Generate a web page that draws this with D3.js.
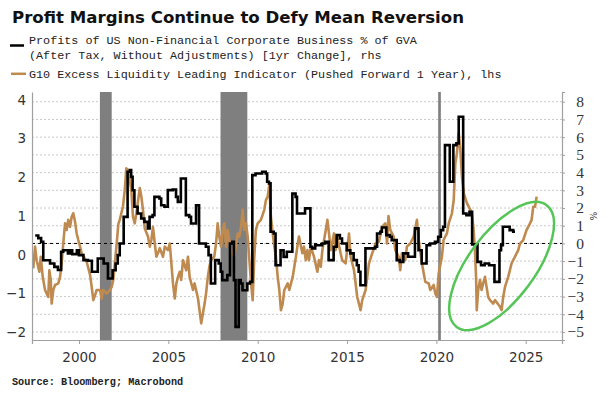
<!DOCTYPE html>
<html>
<head>
<meta charset="utf-8">
<script src="https://cdn.jsdelivr.net/npm/d3@7"></script>
<style>
  html, body { margin: 0; padding: 0; background: #fff; }
  svg { display: block; }
</style>
</head>
<body>
<svg id="chart" width="616" height="400"></svg>
<script>
// ---------- DATA ----------
const title = "Profit Margins Continue to Defy Mean Reversion";
const legendProfits = ["Profits of US Non-Financial Corporate Business % of GVA",
                       "(After Tax, Without Adjustments) [1yr Change], rhs"];
const legendLiquidity = "G10 Excess Liquidity Leading Indicator (Pushed Forward 1 Year), lhs";
const sourceText = "Source: Bloomberg; Macrobond";

const xTicks = [2000, 2005, 2010, 2015, 2020, 2025];
const leftTicks = [-2, -1, 0, 1, 2, 3, 4];
const rightTicks = [-5, -4, -3, -2, -1, 0, 1, 2, 3, 4, 5, 6, 7, 8];

// recession periods [start, end] (decimal years)
const recessions = [[2001.17, 2001.83], [2007.92, 2009.42], [2020.1, 2020.25]];

// Profits of US NFC % of GVA, 1yr change (rhs) - step series [year, value]
const profits = [
  [1997.55,0.45],[1997.72,0.3],[1997.88,0.1],[1998.0,-0.95],[1998.38,-1.13],[1998.62,-1.32],
  [1998.82,-1.5],[1999.0,-0.47],[1999.12,-0.38],[1999.38,-0.56],[1999.5,-0.38],[1999.62,-0.6],
  [1999.88,-0.38],[2000.0,-0.66],[2000.25,-0.94],[2000.5,-0.98],[2000.72,-1.6],[2001.05,-0.85],
  [2001.38,-1.13],[2001.62,-1.98],[2001.88,-1.51],[2002.05,-1.13],[2002.17,-0.66],[2002.28,0.0],
  [2002.5,1.5],[2002.72,4.05],[2002.85,4.14],[2002.92,3.76],[2003.0,3.0],[2003.1,2.07],
  [2003.28,1.69],[2003.48,1.41],[2003.66,1.22],[2003.85,0.85],[2003.95,1.5],[2004.12,1.6],
  [2004.22,2.63],[2004.5,2.54],[2004.6,2.16],[2004.78,2.07],[2004.97,3.01],[2005.25,3.05],
  [2005.43,2.63],[2005.53,2.35],[2005.7,3.67],[2005.98,1.6],[2006.17,1.5],[2006.27,1.13],
  [2006.55,2.16],[2006.72,0.0],[2007.1,-0.19],[2007.25,-0.66],[2007.38,-2.26],[2007.62,-0.94],
  [2007.82,-1.13],[2007.93,-1.6],[2008.02,-2.07],[2008.3,-1.79],[2008.45,0.0],[2008.58,0.09],
  [2008.67,-2.07],[2008.76,-4.71],[2008.94,-2.07],[2009.05,-2.26],[2009.15,-2.64],[2009.42,-2.26],
  [2009.57,-2.17],[2009.7,3.86],[2009.88,3.95],[2010.25,4.05],[2010.45,3.95],[2010.53,3.48],
  [2010.63,3.39],[2010.72,0.66],[2010.9,0.56],[2011.0,-1.23],[2011.28,-0.38],[2011.45,-0.76],
  [2011.63,-0.47],[2011.94,2.82],[2012.12,2.63],[2012.2,1.69],[2012.65,1.98],[2012.95,-0.19],
  [2013.05,-0.28],[2013.22,-0.1],[2013.6,0.0],[2013.78,0.09],[2013.97,-0.94],[2014.25,-0.19],
  [2014.42,0.47],[2014.6,0.28],[2014.72,0.0],[2014.98,-0.38],[2015.18,-0.56],[2015.37,-0.94],
  [2015.55,-1.23],[2015.65,-1.6],[2015.75,-2.36],[2016.03,-0.28],[2016.58,-0.19],[2016.68,0.56],
  [2016.86,0.66],[2016.95,0.9],[2017.2,0.47],[2017.4,0.38],[2017.5,0.19],[2017.78,-0.94],
  [2017.96,-1.04],[2018.15,-0.56],[2018.42,-0.75],[2018.8,0.85],[2019.0,-0.38],[2019.18,-1.13],
  [2019.45,-0.1],[2019.65,0.0],[2019.92,0.09],[2020.1,0.38],[2020.25,0.75],[2020.38,0.94],
  [2020.48,5.55],[2020.75,3.48],[2020.95,5.55],[2021.12,5.65],[2021.25,7.15],[2021.5,1.69],
  [2021.68,1.6],[2021.85,1.79],[2022.0,-0.05],[2022.3,-1.04],[2022.5,-1.23],[2022.7,-1.13],
  [2022.95,-1.23],[2023.25,-2.17],[2023.53,-0.38],[2023.62,-0.1],[2023.72,0.94],[2024.1,0.75],
  [2024.3,0.66],[2024.4,0.66]
];

// G10 Excess Liquidity Leading Indicator, pushed forward 1 year (lhs) [year, value]
const liquidity = [
  [1997.44,-0.35],[1997.54,0.21],[1997.63,-0.14],[1997.78,-0.44],[1997.86,-0.05],[1997.97,-0.57],
  [1998.10,-0.91],[1998.28,-1.09],[1998.34,-0.4],[1998.42,-0.65],[1998.47,-1.26],[1998.56,-0.91],
  [1998.66,-0.78],[1998.84,-0.74],[1998.94,-0.57],[1999.03,-0.22],[1999.12,0.29],[1999.22,0.81],
  [1999.31,0.64],[1999.40,0.9],[1999.50,0.72],[1999.59,0.98],[1999.68,1.07],[1999.78,0.85],
  [1999.87,0.55],[1999.96,0.38],[2000.06,0.21],[2000.15,0.04],[2000.43,-0.18],[2000.62,-0.52],
  [2000.71,-0.83],[2000.80,-1.17],[2000.90,-1.04],[2000.99,-0.91],[2001.18,-0.91],[2001.27,-1.13],
  [2001.36,-0.91],[2001.55,-1.0],[2001.73,-0.91],[2001.83,-0.83],[2001.92,-0.65],[2002.11,0.29],
  [2002.20,0.79],[2002.28,0.9],[2002.46,1.24],[2002.56,1.67],[2002.65,2.23],[2002.74,2.19],
  [2002.93,1.67],[2003.02,0.98],[2003.12,0.81],[2003.21,1.07],[2003.40,1.72],[2003.49,1.5],
  [2003.58,1.16],[2003.68,0.68],[2003.86,0.47],[2003.96,0.21],[2004.05,0.38],[2004.14,0.72],
  [2004.24,0.29],[2004.33,-0.05],[2004.42,0.04],[2004.52,0.17],[2004.70,-0.05],[2004.80,0.21],
  [2004.98,0.12],[2005.08,0.29],[2005.17,-0.22],[2005.26,-0.74],[2005.36,-1.13],[2005.45,-0.74],
  [2005.54,-0.57],[2005.64,-0.44],[2005.72,-0.65],[2005.82,-0.14],[2006.0,-0.4],[2006.10,-0.05],
  [2006.19,-0.57],[2006.38,-0.91],[2006.47,-0.74],[2006.66,-1.13],[2006.84,-1.77],[2007.03,-1.26],
  [2007.11,-1.0],[2007.21,-0.57],[2007.30,-0.3],[2007.39,-0.14],[2007.57,-0.05],[2007.67,0.29],
  [2007.76,0.81],[2007.85,0.47],[2007.95,0.21],[2008.04,0.64],[2008.13,0.81],[2008.23,0.21],
  [2008.32,0.64],[2008.41,0.38],[2008.51,0.12],[2008.69,-0.05],[2008.88,0.55],[2008.97,0.47],
  [2009.07,0.72],[2009.16,1.16],[2009.25,0.64],[2009.35,0.81],[2009.44,0.47],[2009.63,-0.74],
  [2009.72,-1.17],[2009.81,-0.05],[2009.90,0.64],[2010.0,0.81],[2010.18,0.9],[2010.37,1.16],
  [2010.46,1.41],[2010.56,1.5],[2010.65,1.8],[2010.74,0.98],[2010.84,0.55],[2010.93,0.21],
  [2011.02,-0.05],[2011.12,-0.57],[2011.21,-0.91],[2011.30,-1.43],[2011.40,-1.26],[2011.49,-0.91],
  [2011.68,-0.74],[2011.77,-0.91],[2011.96,-0.57],[2012.05,-0.31],[2012.14,-0.05],[2012.22,0.21],
  [2012.31,0.47],[2012.50,0.04],[2012.59,0.21],[2012.69,-0.14],[2012.78,0.12],[2012.87,-0.14],
  [2012.97,0.21],[2013.15,-0.05],[2013.34,-0.44],[2013.43,-0.14],[2013.53,-0.31],[2013.62,0.12],
  [2013.81,0.64],[2013.90,0.9],[2013.99,0.55],[2014.09,0.12],[2014.27,0.55],[2014.36,0.12],
  [2014.45,0.47],[2014.64,0.04],[2014.73,-0.14],[2014.92,-0.22],[2015.11,0.55],[2015.20,-0.05],
  [2015.39,-0.4],[2015.48,-0.74],[2015.57,-1.09],[2015.76,-1.43],[2015.85,-1.17],[2016.04,-0.91],
  [2016.13,-0.57],[2016.23,-0.22],[2016.41,0.04],[2016.60,0.29],[2016.79,0.34],[2016.88,0.55],
  [2016.97,0.72],[2017.14,0.81],[2017.24,0.29],[2017.32,1.0],[2017.42,0.64],[2017.61,0.47],
  [2017.70,0.12],[2017.89,-0.05],[2017.98,-0.4],[2018.07,0.04],[2018.26,-0.14],[2018.35,0.21],
  [2018.54,0.29],[2018.73,0.47],[2018.91,0.9],[2019.01,0.38],[2019.19,-0.22],[2019.38,-0.7],
  [2019.57,-0.74],[2019.66,-0.91],[2019.85,-0.78],[2019.94,-1.0],[2020.03,-1.09],[2020.13,-0.48],
  [2020.31,-0.05],[2020.40,0.38],[2020.59,0.55],[2020.69,0.81],[2020.87,1.07],[2020.97,1.41],
  [2021.06,2.36],[2021.15,2.62],[2021.25,3.14],[2021.34,2.71],[2021.43,2.02],[2021.53,1.59],
  [2021.71,1.33],[2021.90,1.16],[2021.98,1.07],[2022.07,0.72],[2022.16,0.12],[2022.22,-0.57],
  [2022.26,-1.43],[2022.34,-0.91],[2022.44,-0.65],[2022.53,-0.91],[2022.62,-0.74],[2022.72,-0.57],
  [2022.81,-0.83],[2022.90,-1.09],[2023.0,-1.17],[2023.18,-1.26],[2023.28,-1.17],[2023.56,-1.34],
  [2023.65,-1.43],[2023.74,-1.09],[2023.84,-0.83],[2024.02,-0.57],[2024.21,-0.22],[2024.40,-0.05],
  [2024.58,0.12],[2024.68,0.29],[2024.86,0.38],[2025.05,0.64],[2025.14,0.72],[2025.24,0.81],
  [2025.33,0.9],[2025.42,1.24],[2025.52,1.24],[2025.61,1.5]
];

// highlight ellipse: major-axis end points in data space (year, rhs value)
const highlightEnds = [[2021.13, -4.71], [2026.17, 2.16]];

// ---------- LAYOUT ----------
const svg = d3.select("#chart");
const plot = {left: 32, right: 562, top: 92, bottom: 340};

const x = d3.scaleLinear().domain([1997.37, 2027.03]).range([plot.left, plot.right]);
const yL = d3.scaleLinear().domain([-2.2, 4.2]).range([plot.bottom, plot.top]);
const yR = d3.scaleLinear().domain([-5.45, 8.55]).range([plot.bottom, plot.top]);

const orange = "#bf8a4f";
const gridColor = "#c8c8c8";
const axisColor = "#a0a0a0";

// title
svg.append("text")
  .attr("x", 12).attr("y", 23)
  .attr("font-family", "DejaVu Sans, Verdana, sans-serif")
  .attr("font-weight", "bold").attr("font-size", 15.5)
  .attr("fill", "#111")
  .attr("textLength", 452).attr("lengthAdjust", "spacingAndGlyphs")
  .text(title);

// legend
const monoFont = "Liberation Mono, DejaVu Sans Mono, monospace";
svg.append("line").attr("x1", 10).attr("x2", 24).attr("y1", 45.5).attr("y2", 45.5)
  .attr("stroke", "#000").attr("stroke-width", 2.5);
legendProfits.forEach((t, i) => {
  svg.append("text").attr("x", 29).attr("y", 43.5 + i * 15)
    .attr("font-family", monoFont).attr("font-size", 11.75).attr("fill", "#222").text(t);
});
svg.append("line").attr("x1", 11).attr("x2", 26).attr("y1", 73.8).attr("y2", 73.8)
  .attr("stroke", orange).attr("stroke-width", 2.5);
svg.append("text").attr("x", 29).attr("y", 78)
  .attr("font-family", monoFont).attr("font-size", 11.75).attr("fill", "#222").text(legendLiquidity);

// gridlines (right-axis ticks)
svg.append("g").selectAll("line").data(rightTicks).join("line")
  .attr("x1", plot.left).attr("x2", plot.right)
  .attr("y1", d => yR(d)).attr("y2", d => yR(d))
  .attr("stroke", gridColor).attr("stroke-width", 1).attr("stroke-dasharray", "2,2");

// recession bars
svg.append("g").selectAll("rect").data(recessions).join("rect")
  .attr("x", d => x(d[0])).attr("width", d => x(d[1]) - x(d[0]))
  .attr("y", plot.top).attr("height", plot.bottom - plot.top)
  .attr("fill", "#7f7f7f");

// zero dashed line (rhs 0)
svg.append("line")
  .attr("x1", plot.left).attr("x2", plot.right)
  .attr("y1", yR(0)).attr("y2", yR(0))
  .attr("stroke", "#000").attr("stroke-width", 1).attr("stroke-dasharray", "3,3");

// series
svg.append("path").datum(liquidity)
  .attr("d", d3.line().x(d => x(d[0])).y(d => yL(d[1])))
  .attr("fill", "none").attr("stroke", orange).attr("stroke-width", 2.6)
  .attr("stroke-linejoin", "round");

svg.append("path").datum(profits)
  .attr("d", d3.line().curve(d3.curveStepAfter).x(d => x(d[0])).y(d => yR(d[1])))
  .attr("fill", "none").attr("stroke", "#000").attr("stroke-width", 2.6)
  .attr("stroke-linejoin", "miter");

// axes
const tickFont = "DejaVu Sans, Verdana, sans-serif";
const gL = svg.append("g").attr("transform", `translate(${plot.left},0)`)
  .call(d3.axisLeft(yL).tickValues(leftTicks).tickSize(0).tickPadding(6).tickFormat(d3.format("d")));
const gR = svg.append("g").attr("transform", `translate(${plot.right},0)`)
  .call(d3.axisRight(yR).tickValues(rightTicks).tickSize(3).tickPadding(19).tickFormat(d3.format("d")));
const gB = svg.append("g").attr("transform", `translate(0,${plot.bottom})`)
  .call(d3.axisBottom(x).tickValues(xTicks).tickSize(4).tickPadding(8).tickFormat(d3.format("d")));

[gL, gR, gB].forEach(g => {
  g.select(".domain").attr("stroke", axisColor).attr("stroke-width", 1.2);
  g.selectAll(".tick line").attr("stroke", axisColor);
  g.selectAll("text").attr("fill", "#333").attr("font-family", tickFont).attr("font-size", 13.5);
});
gR.selectAll("text").attr("text-anchor", "end")
  .attr("font-family", "Liberation Serif, DejaVu Serif, serif").attr("font-size", 15.5);

// right axis unit
svg.append("text")
  .attr("transform", `translate(593,216) rotate(90)`)
  .attr("text-anchor", "middle").attr("dy", "0.35em")
  .attr("font-family", tickFont).attr("font-size", 9).attr("fill", "#333")
  .text("%");

// highlight ellipse
const p1 = [x(highlightEnds[0][0]), yR(highlightEnds[0][1])];
const p2 = [x(highlightEnds[1][0]), yR(highlightEnds[1][1])];
const cx = (p1[0] + p2[0]) / 2, cy = (p1[1] + p2[1]) / 2;
const rx = Math.hypot(p2[0] - p1[0], p2[1] - p1[1]) / 2;
const ang = Math.atan2(p2[1] - p1[1], p2[0] - p1[0]) * 180 / Math.PI;
svg.append("ellipse")
  .attr("cx", cx).attr("cy", cy).attr("rx", rx).attr("ry", rx * 0.44)
  .attr("transform", `rotate(${ang},${cx},${cy})`)
  .attr("fill", "none").attr("stroke", "#55c557").attr("stroke-width", 2.5);

// source
svg.append("text").attr("x", 12).attr("y", 385)
  .attr("font-family", monoFont).attr("font-weight", "bold").attr("font-size", 10.2)
  .attr("fill", "#222").text(sourceText);
</script>
</body>
</html>
